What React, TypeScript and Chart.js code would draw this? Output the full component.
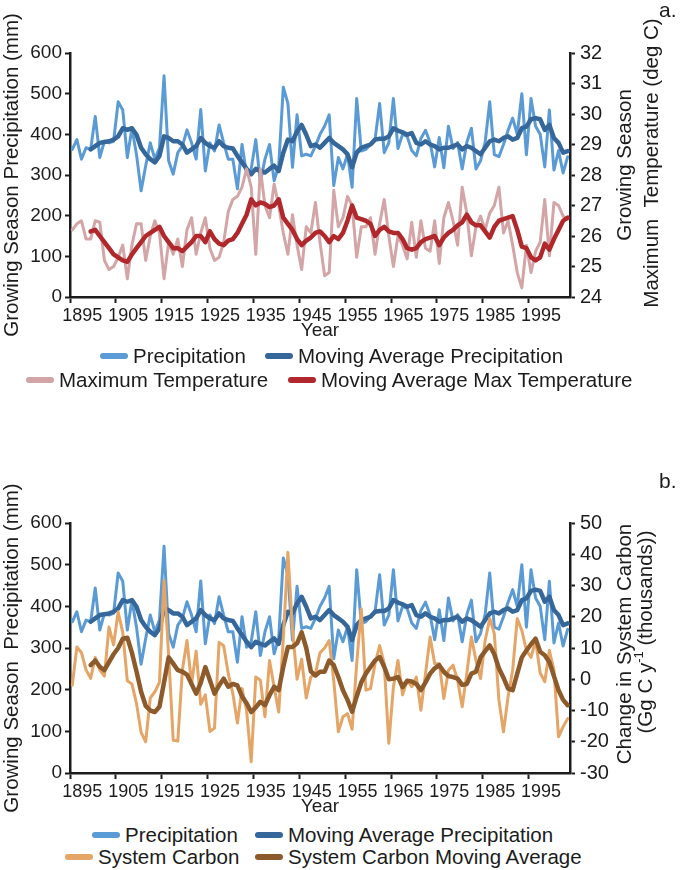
import React, { useEffect, useRef } from 'react';
import { Chart, registerables } from 'chart.js';

Chart.register(...registerables);

const FONT = '"Liberation Sans", Arial, Helvetica, sans-serif';
const AXIS = '#1c1c1c';
const TEXT = '#1c1c1c';

// Categories
const firstYear = 1895;
const lastYear = 2003;
const years: string[] = [];
for (let y = firstYear; y <= lastYear; y++) years.push(String(y));
const yearTickLabels = ['1895', '1905', '1915', '1925', '1935', '1945', '1955', '1965', '1975', '1985', '1995'];

// Growing season precipitation (mm)
const precipitation = [
  363, 387, 339, 367, 363, 444, 343, 383, 379, 383,
  480, 460, 343, 415, 350, 261, 323, 379, 339, 367,
  544, 335, 302, 355, 371, 411, 379, 339, 461, 310,
  379, 359, 423, 379, 339, 339, 266, 375, 302, 315,
  387, 282, 339, 375, 286, 323, 516, 476, 319, 448,
  347, 351, 347, 371, 400, 420, 448, 274, 343, 315,
  351, 270, 488, 359, 363, 375, 387, 476, 355, 379,
  488, 365, 400, 395, 360, 347, 390, 410, 380, 320,
  392, 318, 420, 365, 380, 315, 380, 415, 315, 335,
  380, 480, 350, 345, 375, 410, 440, 400, 500, 350,
  488, 420, 400, 320, 460, 312, 360, 305, 345,
];

const precipitationMovingAvg = [
  null, null, null, null, 363, 371, 379, 381, 383, 387,
  395, 415, 411, 415, 399, 367, 351, 339, 331, 347,
  395, 391, 383, 383, 375, 355, 363, 371, 391, 379,
  371, 367, 383, 371, 367, 365, 347, 331, 315, 302,
  315, 310, 306, 315, 323, 310, 355, 387, 383, 407,
  423, 399, 371, 375, 367, 379, 391, 379, 371, 363,
  351, 319, 355, 367, 371, 375, 387, 389, 389, 395,
  415, 409, 405, 399, 403, 379, 375, 383, 375, 371,
  363, 367, 367, 371, 375, 363, 371, 367, 359, 351,
  367, 383, 387, 383, 391, 395, 387, 391, 415, 419,
  437, 440, 437, 411, 423, 391, 379, 355, 359,
];

// Growing season maximum temperature (deg C)
const maxTemperature = [
  26.2, 26.4, 26.5, 25.9, 25.9, 26.5, 26.45, 25.2, 24.9, 25.0,
  25.3, 25.7, 24.6, 25.7, 26.4, 26.4, 25.2, 26.0, 26.5, 26.1,
  24.6, 25.8, 25.4, 25.9, 25.0, 26.2, 26.6, 25.4, 26.1, 26.6,
  25.6, 25.2, 25.3, 25.8, 26.8, 27.2, 27.3, 27.6, 28.2, 27.6,
  25.4, 28.2, 27.0, 26.6, 27.7, 27.0, 26.1, 25.4, 26.7, 25.7,
  24.9, 26.3, 26.1, 27.1, 25.8, 24.7, 24.8, 27.5, 26.3, 26.6,
  27.3, 27.0, 25.3, 26.3, 26.3, 26.6, 25.4, 26.4, 27.2, 26.0,
  25.0, 26.0, 25.7, 25.25, 26.45, 25.3, 26.5, 25.6, 25.5, 26.5,
  25.1, 26.6, 27.1, 26.5, 25.7, 27.6, 26.75, 25.35, 26.3, 26.65,
  26.2, 26.75, 27.0, 27.6, 26.1, 26.5, 25.7, 24.8, 24.3, 25.7,
  24.8, 25.5, 25.8, 27.2, 25.35, 27.1, 27.0, 26.65, 26.55,
];

const maxTemperatureMovingAvg = [
  null, null, null, null, 26.15, 26.2, 26.0, 25.8, 25.6, 25.4,
  25.3, 25.2, 25.15, 25.4, 25.6, 25.8, 26.0, 26.1, 26.2, 26.3,
  26.0, 25.8, 25.6, 25.6, 25.5, 25.65, 25.8, 26.0, 26.0, 25.8,
  26.15, 25.9, 25.75, 25.7, 25.85, 25.9, 26.1, 26.4, 26.7, 27.2,
  27.0, 27.1, 27.05, 26.95, 27.0, 27.2, 26.6, 26.4, 26.2, 25.9,
  25.7, 25.85, 25.95, 26.1, 26.15, 26.0, 25.8, 26.0, 25.9, 26.1,
  26.5, 27.0, 26.6, 26.55, 26.5, 26.4, 26.0, 26.2, 26.3, 26.15,
  26.1, 26.1, 25.9, 25.6, 25.55, 25.6, 25.8, 25.9, 25.95, 26.0,
  25.7, 25.95, 26.1, 26.2, 26.35, 26.45, 26.7, 26.45, 26.35, 26.35,
  26.15, 25.95, 26.3, 26.5, 26.55, 26.6, 26.65, 26.2, 25.65, 25.6,
  25.3, 25.2, 25.3, 25.75, 25.55, 25.9, 26.2, 26.5, 26.6,
];

// Change in system carbon (Gg C / y, thousands)
const systemCarbon = [
  -1.9, 10.3, 8.5, 3, 0.3, 7, 3, 1, 16.7, 11,
  21.5, 15, -0.5, -1.5, -7.8, -17, -20, -6, -4, -1,
  31.6, 8, -19.5, -19.8, 3, 12.4, -1.5, 9, -8, -5,
  -16.7, -15.6, 11.8, 10.7, 1.8, -4.6, -14, -3, -10, -26.4,
  0.7, -0.3, -12, 6, -2.5, -10.5, 13, 40.6, 16, 0,
  6.4, -6, 0.7, 1.8, 8.5, 10, 12.4, -0.5, -16.8, -12,
  -11, -16, 5, 22.5, -3.5, -3, 5, 10.8, 5, -20.5,
  -2.5, 6, -5, -0.3, -2.4, 0.7, -9.9, 1.8, 13.5, 5,
  5, -6.2, 2.9, 4.5, -0.3, -8.8, 1.8, 13.5, 6, 0.2,
  12.4, 19.4, 14.6, -6.6, -16.8, -5.6, 2.9, 19.4, 15.6, 9.2,
  7, 12.4, 2, -0.8, 9.2, 2.9, -18.4, -15.2, -12.6,
];

const systemCarbonMovingAvg = [
  null, null, null, null, 4.5, 6.0, 4.0, 2.9, 5.5, 8.0,
  10.0, 13.0, 13.3, 8.5, 2.5, -4, -8.5, -10.0, -10.5, -8.8,
  -1, 7.0, 5.0, 2.9, 2.4, 1.5, -1.5, -4.6, -1.2, 3.9,
  -0.3, -4.6, -2, 0.2, -2.4, -1.5, -2, -5.5, -7.7, -10.5,
  -9.0, -7.2, -8.3, -5.1, -2.4, -3.5, 4, 10.3, 10.3, 11.5,
  15, 10, 2.5, 1.2, 2.4, 2.4, 6, 4.5, 0.7, -3.5,
  -6.6, -10.4, -5.5, -1, 1.8, 3.9, 6, 7.1, 4, 0,
  0.2, 0.7, -2.5, -0.5, -0.7, -1.5, -3.5, -1.0, 1.8, 3.5,
  4.5, 2.4, 1, 0.7, 0.2, -1.8, -1.5, 1.8, 2.4, 7,
  9, 10.8, 8, 3.5, 0.5, -3, -3.5, 1.8, 7.0, 9.2,
  11.2, 13, 8.8, 7.7, 5.5, 1, -3.5, -6.6, -8.3,
];

const COLORS = {
  precip: '#5B9BD5',
  precipAvg: '#36679A',
  temp: '#D4A5A6',
  tempAvg: '#B0282C',
  carbon: '#E5A566',
  carbonAvg: '#8C5A2B',
};

type Seg = { text: string; sup?: boolean };

const rightTitlePlugin = {
  id: 'rightTitle',
  afterDraw(chart: any, _args: any, opts: any) {
    if (!opts || !opts.lines) return;
    const ctx = chart.ctx as CanvasRenderingContext2D;
    const size = opts.size || 20;
    ctx.save();
    ctx.fillStyle = TEXT;
    ctx.textBaseline = 'middle';
    ctx.textAlign = 'left';
    opts.lines.forEach((line: Seg[], i: number) => {
      ctx.save();
      ctx.translate(opts.xs[i], opts.ys[i]);
      ctx.rotate(-Math.PI / 2);
      let total = 0;
      line.forEach((s) => {
        ctx.font = `${s.sup ? Math.round(size * 0.62) : size}px ${FONT}`;
        total += ctx.measureText(s.text).width;
      });
      let x = -total / 2;
      line.forEach((s) => {
        ctx.font = `${s.sup ? Math.round(size * 0.62) : size}px ${FONT}`;
        ctx.fillText(s.text, x, s.sup ? -size * 0.33 : 0);
        x += ctx.measureText(s.text).width;
      });
      ctx.restore();
    });
    ctx.restore();
  },
};

function makeOptions(p: {
  leftTitle: string;
  rightMin: number;
  rightMax: number;
  rightStep: number;
  rightTitle: any;
  padTop: number;
}) {
  const tickFont = { family: FONT, size: 19 };
  return {
    responsive: false,
    maintainAspectRatio: false,
    animation: false,
    events: [],
    layout: { padding: { top: p.padTop, left: 0, right: 0, bottom: 0 } },
    elements: { point: { radius: 0 }, line: { tension: 0, borderCapStyle: 'round', borderJoinStyle: 'round' } },
    plugins: {
      legend: { display: false },
      tooltip: { enabled: false },
      rightTitle: p.rightTitle,
    },
    scales: {
      x: {
        type: 'category',
        offset: true,
        grid: {
          offset: true,
          drawOnChartArea: false,
          drawTicks: true,
          tickLength: 6,
          tickWidth: 2,
          tickColor: (c: any) => (typeof c.index === 'number' && c.index % 10 === 0 ? AXIS : 'rgba(0,0,0,0)'),
        },
        border: { display: true, color: AXIS, width: 2.5 },
        ticks: {
          autoSkip: false,
          maxRotation: 0,
          minRotation: 0,
          padding: 2,
          labelOffset: 10,
          color: TEXT,
          font: { family: FONT, size: 18 },
          callback: (_v: any, i: number) => (yearTickLabels.includes(years[i]) ? years[i] : ''),
        },
        title: {
          display: true,
          text: 'Year',
          color: TEXT,
          font: { family: FONT, size: 19 },
          padding: { top: 0, bottom: 3 },
        },
        afterFit: (s: any) => {
          s.height = 48;
        },
      },
      y: {
        position: 'left',
        min: 0,
        max: 600,
        grid: { drawOnChartArea: false, drawTicks: true, tickLength: 5, tickWidth: 2, tickColor: AXIS },
        border: { display: true, color: AXIS, width: 2.5 },
        ticks: { stepSize: 100, padding: 3, color: TEXT, font: tickFont },
        title: {
          display: true,
          text: p.leftTitle,
          color: TEXT,
          font: { family: FONT, size: 20.5 },
          padding: 0,
        },
        afterFit: (s: any) => {
          s.width = 70;
        },
      },
      y2: {
        position: 'right',
        min: p.rightMin,
        max: p.rightMax,
        grid: { drawOnChartArea: false, drawTicks: true, tickLength: 5, tickWidth: 2, tickColor: AXIS },
        border: { display: true, color: AXIS, width: 2.5 },
        ticks: { stepSize: p.rightStep, padding: 5, color: TEXT, font: { family: FONT, size: 20 } },
        afterFit: (s: any) => {
          s.width = 110;
        },
      },
    },
  };
}

function lineDs(label: string, data: any[], color: string, width: number, axis: string, order: number) {
  return {
    label,
    data,
    borderColor: color,
    backgroundColor: color,
    borderWidth: width,
    yAxisID: axis,
    order,
    fill: false,
    spanGaps: false,
    pointRadius: 0,
  };
}

function LegendItem({ left, top, color, text }: { left: number; top: number; color: string; text: string }) {
  return (
    <div
      style={{
        position: 'absolute',
        left,
        top: top - 12,
        height: 24,
        display: 'flex',
        alignItems: 'center',
        whiteSpace: 'nowrap',
      }}
    >
      <span style={{ display: 'inline-block', width: 28, height: 6, borderRadius: 3, background: color, marginRight: 5 }} />
      <span style={{ fontFamily: FONT, fontSize: 20.5, color: TEXT, lineHeight: '24px' }}>{text}</span>
    </div>
  );
}

export default function App() {
  const refA = useRef<HTMLCanvasElement | null>(null);
  const refB = useRef<HTMLCanvasElement | null>(null);

  useEffect(() => {
    const chartA = new Chart(refA.current as HTMLCanvasElement, {
      type: 'line',
      data: {
        labels: years,
        datasets: [
          lineDs('Precipitation', precipitation, COLORS.precip, 3, 'y', 4),
          lineDs('Moving Average Precipitation', precipitationMovingAvg, COLORS.precipAvg, 4.5, 'y', 3),
          lineDs('Maximum Temperature', maxTemperature, COLORS.temp, 3, 'y2', 2),
          lineDs('Moving Average Max Temperature', maxTemperatureMovingAvg, COLORS.tempAvg, 4.5, 'y2', 1),
        ],
      },
      options: makeOptions({
        leftTitle: 'Growing Season Precipitation (mm)',
        rightMin: 24,
        rightMax: 32,
        rightStep: 1,
        padTop: 53,
        rightTitle: {
          size: 20.5,
          xs: [625, 652],
          ys: [165, 163],
          lines: [[{ text: 'Growing Season' }], [{ text: 'Maximum  Temperature (deg C)' }]],
        },
      }) as any,
      plugins: [rightTitlePlugin],
    });

    const chartB = new Chart(refB.current as HTMLCanvasElement, {
      type: 'line',
      data: {
        labels: years,
        datasets: [
          lineDs('Precipitation', precipitation, COLORS.precip, 3, 'y', 4),
          lineDs('Moving Average Precipitation', precipitationMovingAvg, COLORS.precipAvg, 4.5, 'y', 3),
          lineDs('System Carbon', systemCarbon, COLORS.carbon, 3, 'y2', 2),
          lineDs('System Carbon Moving Average', systemCarbonMovingAvg, COLORS.carbonAvg, 4.5, 'y2', 1),
        ],
      },
      options: makeOptions({
        leftTitle: 'Growing Season  Precipitation (mm)',
        rightMin: -30,
        rightMax: 50,
        rightStep: 10,
        padTop: 93,
        rightTitle: {
          size: 20.5,
          xs: [625, 646],
          ys: [214, 202],
          lines: [
            [{ text: 'Change in System Carbon' }],
            [{ text: '(Gg C y' }, { text: '-1', sup: true }, { text: ' (thousands))' }],
          ],
        },
      }) as any,
      plugins: [rightTitlePlugin],
    });

    return () => {
      chartA.destroy();
      chartB.destroy();
    };
  }, []);

  return (
    <div style={{ position: 'absolute', left: 0, top: 0, width: 680, height: 870, background: '#fff', overflow: 'hidden' }}>
      <canvas ref={refA} width={680} height={345} style={{ position: 'absolute', left: 0, top: 0, display: 'block' }} />
      <canvas ref={refB} width={680} height={391} style={{ position: 'absolute', left: 0, top: 430, display: 'block' }} />

      <div style={{ position: 'absolute', left: 659, top: -2, fontFamily: FONT, fontSize: 21, color: TEXT }}>a.</div>
      <div style={{ position: 'absolute', left: 659, top: 469, fontFamily: FONT, fontSize: 21, color: TEXT }}>b.</div>

      <LegendItem left={100} top={356} color={COLORS.precip} text="Precipitation" />
      <LegendItem left={265} top={356} color={COLORS.precipAvg} text="Moving Average Precipitation" />
      <LegendItem left={26} top={380} color={COLORS.temp} text="Maximum Temperature" />
      <LegendItem left={288} top={380} color={COLORS.tempAvg} text="Moving Average Max Temperature" />

      <LegendItem left={92} top={835} color={COLORS.precip} text="Precipitation" />
      <LegendItem left={255} top={835} color={COLORS.precipAvg} text="Moving Average Precipitation" />
      <LegendItem left={65} top={857} color={COLORS.carbon} text="System Carbon" />
      <LegendItem left={255} top={857} color={COLORS.carbonAvg} text="System Carbon Moving Average" />
    </div>
  );
}
